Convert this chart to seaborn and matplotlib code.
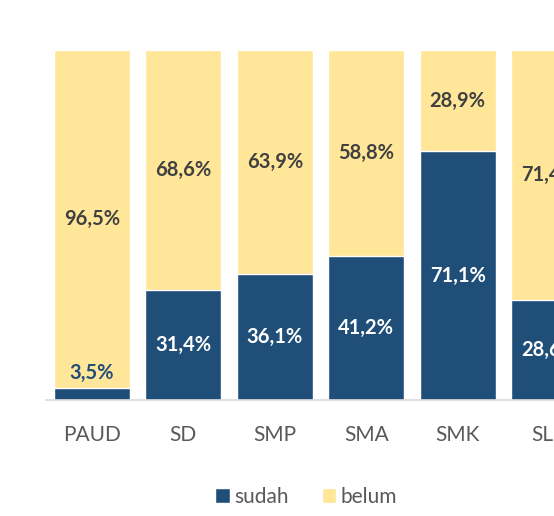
#!/usr/bin/env python3

import numpy as np
import pandas as pd
import matplotlib.pyplot as plt
import seaborn as sns
from matplotlib.patches import Patch


categories = ["PAUD", "SD", "SMP", "SMA", "SMK", "SLB"]
sudah = [3.5, 31.4, 36.1, 41.2, 71.1, 28.6]
belum = [96.5, 68.6, 63.9, 58.8, 28.9, 71.4]

color_sudah = "#1F4E79"
color_belum = "#FFE699"

sns.set_theme(style="white")
plt.rcParams["font.family"] = ["Lato", "DejaVu Sans"]

data = pd.DataFrame({"jenjang": categories, "sudah": sudah, "belum": belum})
data["total"] = data["sudah"] + data["belum"]

fig = plt.figure(figsize=(5.54, 5.16), dpi=100)
# axes runs past the right edge, the last bar is cut like in the source
ax = fig.add_axes([46 / 554, 116 / 516, 549 / 554, 350 / 516])

sns.barplot(data=data, x="jenjang", y="total", color=color_belum, width=0.83,
            saturation=1, ax=ax)
sns.barplot(data=data, x="jenjang", y="sudah", color=color_sudah, width=0.83,
            saturation=1, ax=ax)

ax.set_ylim(0, 100)
ax.set_xlim(-0.5, len(categories) - 0.5)
ax.set_xlabel("")
ax.set_ylabel("")
ax.set_yticks([])
ax.tick_params(axis="x", length=0, pad=18, labelsize=15, labelcolor="#595959")
for side in ["left", "right", "top"]:
    ax.spines[side].set_visible(False)
ax.spines["bottom"].set_color("#D9D9D9")
ax.spines["bottom"].set_linewidth(1.2)

def fmt(v):
    return f"{v:.1f}%".replace(".", ",")

for i, row in data.iterrows():
    ax.text(i, row["sudah"] + row["belum"] / 2, fmt(row["belum"]), ha="center", va="center",
            fontsize=14.5, fontweight="bold", color="#404040")
    if row["sudah"] < 10:
        ax.text(i, row["sudah"] + 1.5, fmt(row["sudah"]), ha="center", va="bottom",
                fontsize=14.5, fontweight="bold", color=color_sudah)
    else:
        ax.text(i, row["sudah"] / 2, fmt(row["sudah"]), ha="center", va="center",
                fontsize=14.5, fontweight="bold", color="white")

handles = [Patch(facecolor=color_sudah, label="sudah"), Patch(facecolor=color_belum, label="belum")]
fig.legend(handles=handles, loc="center", bbox_to_anchor=(306 / 554, 1 - 497 / 516), ncol=2,
           frameon=False, fontsize=15, labelcolor="#595959", handlelength=0.7, handleheight=0.7,
           handletextpad=0.2, columnspacing=1.6)

plt.savefig("out.png", dpi=100)
plt.close()
